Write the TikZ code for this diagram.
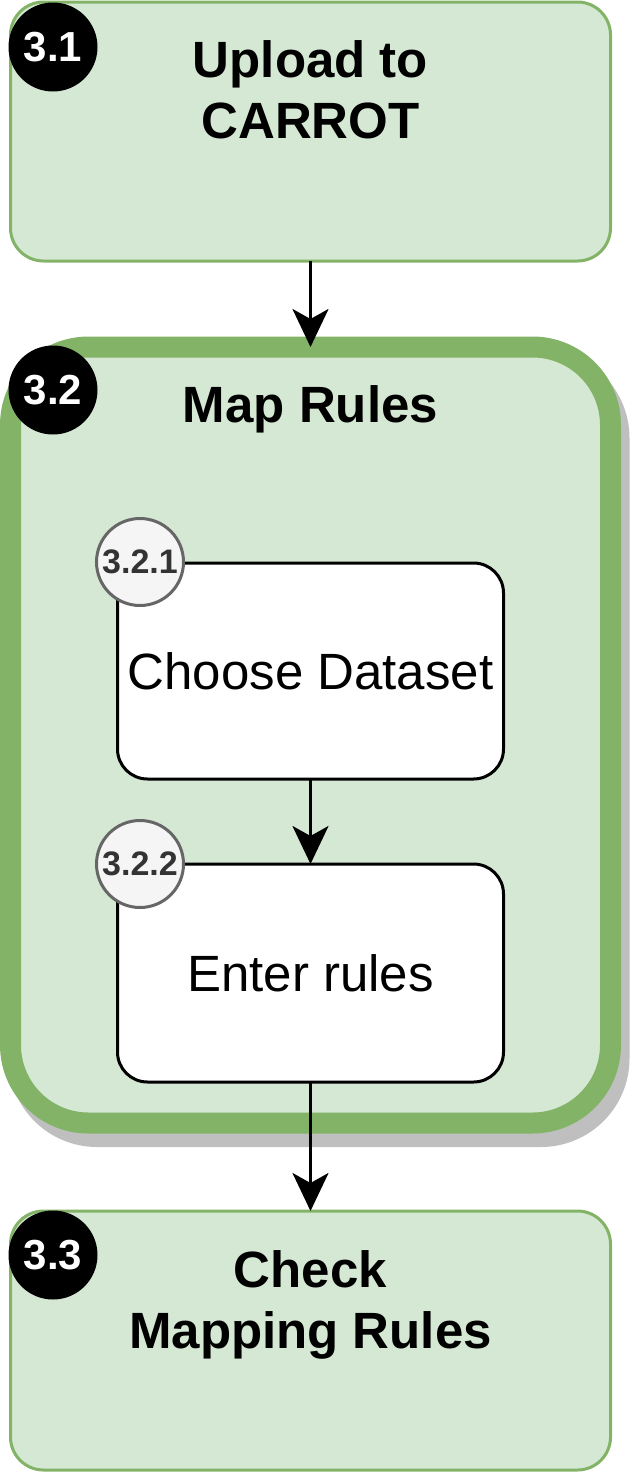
\documentclass[tikz,border=0pt]{standalone}
\usepackage{fontspec}
\setmainfont{Liberation Sans}
\usepackage{tikz}
\usetikzlibrary{positioning,arrows.meta}
\definecolor{stagefill}{HTML}{D5E8D4}
\definecolor{stageline}{HTML}{82B366}
\definecolor{shadowgrey}{HTML}{BFBFBF}
\definecolor{subfill}{HTML}{F5F5F5}
\definecolor{subline}{HTML}{666666}
\definecolor{subtext}{HTML}{333333}
\tikzset{
    stage box/.style={
        rectangle,
        draw=stageline,
        fill=stagefill,
        line width=3pt,
        rounded corners=33pt,
        minimum width=600pt,
        minimum height=259pt,
        outer sep=0pt
    },
    group box/.style={
        rectangle,
        draw=stageline,
        fill=stagefill,
        line width=21pt,
        rounded corners=78pt,
        minimum width=600pt,
        minimum height=776pt,
        outer sep=0pt
    },
    sub box/.style={
        rectangle,
        draw,
        fill=white,
        line width=3pt,
        rounded corners=30pt,
        minimum width=386pt,
        minimum height=216pt,
        outer sep=0pt,
        font=\fontsize{51pt}{61pt}\selectfont
    },
    title/.style={
        inner sep=0pt,
        align=center,
        font=\fontsize{51pt}{61pt}\selectfont\bfseries
    },
    badge/.style={
        circle,
        fill=black,
        text=white,
        minimum size=89pt,
        inner sep=0pt,
        font=\fontsize{42pt}{50pt}\selectfont\bfseries
    },
    sub badge/.style={
        circle,
        draw=subline,
        fill=subfill,
        text=subtext,
        line width=3pt,
        minimum size=87pt,
        inner sep=0pt,
        font=\fontsize{34pt}{40pt}\selectfont\bfseries
    },
    arrow/.style={-{Stealth[length=38pt, width=36pt, inset=10pt]}, line width=3pt}
}
\begin{document}
\begin{tikzpicture}[x=1pt, y=-1pt]
    \useasboundingbox (0,0) rectangle (637,1475);

    % ombra del gruppo
    \draw[shadowgrey, fill=shadowgrey, line width=21pt, rounded corners=78pt] (19,360) rectangle (619,1136.5);

    \node[stage box] (upload) at (310.5, 131.5) {};
    \node[group box] (maprules) at (310.5, 735) {};
    \node[stage box] (check) at (310.5, 1340.5) {};

    \node[title, anchor=north] (uploadtxt) at (310.5, 40.5) {Upload to\\CARROT};
    \node[title, anchor=base] (maptxt) at (310.5, 422) {Map Rules};
    \node[title, anchor=north] (checktxt) at (310.5, 1250) {Check\\Mapping Rules};

    \node[sub box] (dataset) at (310.5, 671) {Choose Dataset};
    \node[sub box, minimum height=218pt] (rules) at (310.5, 973) {Enter rules};

    \node[badge] (b31) at (53, 47) {3.1};
    \node[badge] (b32) at (53, 390) {3.2};
    \node[badge] (b33) at (53, 1255) {3.3};
    \node[sub badge] (b321) at (140, 562) {3.2.1};
    \node[sub badge] (b322) at (140, 864) {3.2.2};

    \draw[arrow] (upload.south) -- (maprules.north);
    \draw[arrow] (dataset.south) -- (rules.north);
    \draw[arrow] (rules.south) -- (check.north);
\end{tikzpicture}
\end{document}
